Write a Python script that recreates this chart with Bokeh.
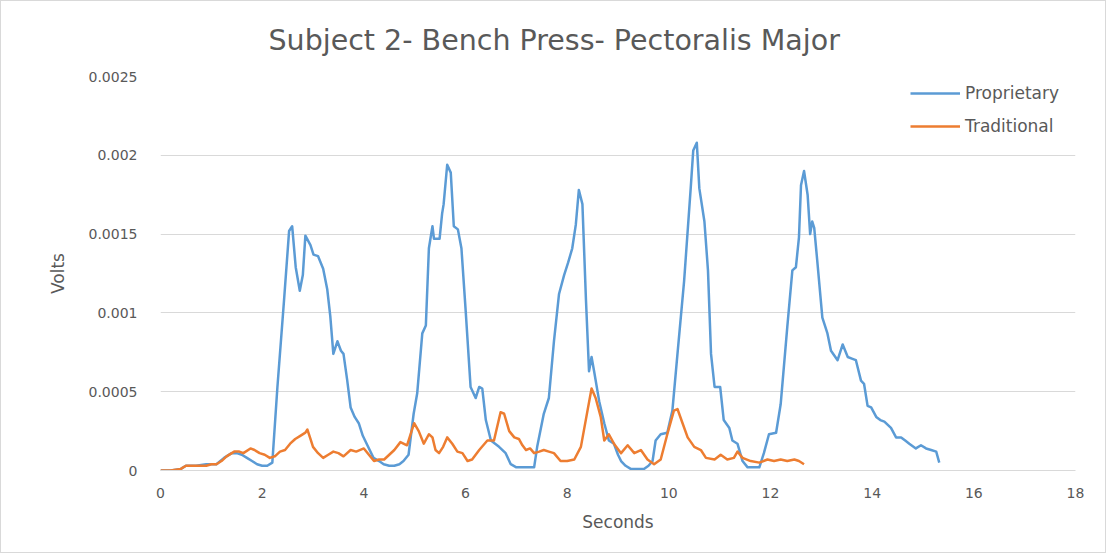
from bokeh.plotting import figure
from bokeh.models import FixedTicker, Range1d, Legend, LegendItem, Title
from bokeh.embed import file_html
from bokeh.resources import INLINE

# EMG signal, Proprietary bench press (seconds, volts)
prop_t = [0.0, 0.2, 0.4, 0.5, 0.7, 0.9, 1.1, 1.25, 1.4, 1.5, 1.6, 1.7, 1.8, 1.9, 2.0, 2.1, 2.2,
          2.3, 2.43, 2.53, 2.59, 2.66, 2.74, 2.8, 2.85, 2.95, 3.01, 3.1, 3.2, 3.28, 3.34, 3.4,
          3.48, 3.55, 3.6, 3.67, 3.74, 3.82, 3.9, 3.98, 4.07, 4.19, 4.3, 4.39, 4.5, 4.6, 4.7,
          4.78, 4.88, 4.98, 5.05, 5.15, 5.22, 5.28, 5.35, 5.38, 5.49, 5.54, 5.57, 5.64, 5.71,
          5.77, 5.85, 5.92, 6.0, 6.1, 6.2, 6.27, 6.33, 6.4, 6.5, 6.66, 6.79, 6.89, 7.0, 7.09,
          7.2, 7.35, 7.41, 7.54, 7.64, 7.74, 7.84, 7.94, 8.02, 8.1, 8.17, 8.23, 8.3, 8.37, 8.43,
          8.48, 8.53, 8.63, 8.73, 8.82, 8.92, 9.0, 9.06, 9.15, 9.25, 9.4, 9.51, 9.6, 9.68, 9.74,
          9.84, 9.97, 10.07, 10.17, 10.3, 10.43, 10.48, 10.55, 10.6, 10.7, 10.77, 10.83, 10.9,
          11.01, 11.08, 11.19, 11.25, 11.35, 11.45, 11.55, 11.65, 11.78, 11.87, 11.97, 12.11,
          12.2, 12.33, 12.43, 12.5, 12.56, 12.6, 12.66, 12.73, 12.78, 12.82, 12.86, 12.92,
          13.02, 13.12, 13.19, 13.32, 13.42, 13.52, 13.6, 13.68, 13.78, 13.84, 13.91, 13.98,
          14.08, 14.16, 14.24, 14.37, 14.47, 14.57, 14.65, 14.73, 14.86, 14.96, 15.06, 15.16,
          15.26, 15.32]
prop_v = [0.0, 0.0, 0.00001, 0.00003, 0.00003, 0.00004, 0.00004, 0.00008, 0.00011, 0.00011,
          0.0001, 0.00008, 0.00006, 0.00004, 0.00003, 0.00003, 0.00005,
          0.00053, 0.00108, 0.00152, 0.00155, 0.00129, 0.00114, 0.00124, 0.00149, 0.00143,
          0.00137, 0.00136, 0.00128, 0.00115, 0.00098, 0.00074,
          0.00082, 0.00076, 0.00074, 0.00058, 0.0004, 0.00034, 0.0003, 0.00022, 0.00016,
          0.00008, 0.00006, 0.00004, 0.00003, 0.00003, 0.00004,
          0.00006, 0.0001, 0.00036, 0.00049, 0.00087, 0.00092, 0.00141, 0.00155, 0.00147,
          0.00147, 0.00163, 0.00169, 0.00194, 0.00189,
          0.00155, 0.00153, 0.00141, 0.00103, 0.00053, 0.00046, 0.00053, 0.00052, 0.00032,
          0.00019, 0.00015, 0.00011, 0.00004, 0.00002, 0.00002,
          0.00002, 0.00002, 0.00015, 0.00036, 0.00046, 0.00082, 0.00112, 0.00124, 0.00132,
          0.00141, 0.00156, 0.00178, 0.00169, 0.00108, 0.00063,
          0.00072, 0.00063, 0.00044, 0.0003, 0.00019, 0.00017, 0.0001, 0.00006, 0.00003,
          0.00001, 0.00001, 0.00001, 0.00003, 0.00006, 0.00019,
          0.00023, 0.00024, 0.00038, 0.00074, 0.0012, 0.00179, 0.00203, 0.00208, 0.00179,
          0.00158, 0.00127, 0.00074, 0.00053,
          0.00053, 0.00032, 0.00027, 0.00019, 0.00017, 0.00006, 0.00002, 0.00002, 0.00002,
          0.00011, 0.00023, 0.00024,
          0.00042, 0.00091, 0.00127, 0.00129, 0.00148, 0.00181, 0.0019, 0.00175, 0.0015,
          0.00158, 0.00154, 0.00133,
          0.00097, 0.00087, 0.00076, 0.0007, 0.0008, 0.00072, 0.00071, 0.0007, 0.00057,
          0.00055, 0.00041, 0.0004,
          0.00034, 0.00032, 0.00031, 0.00027, 0.00021, 0.00021, 0.00019, 0.00017, 0.00014,
          0.00016, 0.00014, 0.00013,
          0.00012, 0.00005]

# EMG signal, Traditional bench press (seconds, volts)
trad_t = [0.0, 0.2, 0.4, 0.5, 0.7, 0.9, 1.0, 1.1, 1.2, 1.3, 1.45, 1.55, 1.63, 1.77, 1.85, 1.95,
          2.05, 2.15, 2.25, 2.35, 2.45, 2.55, 2.65, 2.75, 2.85, 2.89, 2.95, 3.0, 3.1, 3.2, 3.3,
          3.4, 3.5, 3.6, 3.74, 3.85, 4.0, 4.1, 4.2, 4.3, 4.4, 4.5, 4.6, 4.72, 4.85, 4.99, 5.08,
          5.18, 5.28, 5.35, 5.41, 5.48, 5.56, 5.64, 5.74, 5.84, 5.94, 6.04, 6.13, 6.27, 6.35,
          6.43, 6.56, 6.69, 6.76, 6.86, 6.96, 7.05, 7.12, 7.19, 7.27, 7.35, 7.45, 7.54, 7.64,
          7.74, 7.87, 8.0, 8.14, 8.27, 8.4, 8.48, 8.56, 8.66, 8.73, 8.82, 8.92, 9.06, 9.19,
          9.32, 9.45, 9.58, 9.71, 9.84, 9.97, 10.1, 10.17, 10.27, 10.37, 10.5, 10.63, 10.73,
          10.9, 11.02, 11.15, 11.28, 11.35, 11.45, 11.61, 11.78, 11.94, 12.07, 12.2, 12.33,
          12.47, 12.56, 12.66]
trad_v = [0.0, 0.0, 0.00001, 0.00003, 0.00003, 0.00003, 0.00004, 0.00004, 0.00006, 0.00009,
          0.00012, 0.00012, 0.00011, 0.00014, 0.00013, 0.00011,
          0.0001, 0.00008, 0.00009, 0.00012, 0.00013, 0.00017, 0.0002, 0.00022, 0.00024,
          0.00026, 0.0002, 0.00015, 0.00011, 0.00008, 0.0001,
          0.00012, 0.00011, 0.00009, 0.00013, 0.00012, 0.00014, 0.0001, 0.00006, 0.00007,
          0.00007, 0.0001, 0.00013, 0.00018, 0.00016, 0.0003, 0.00025,
          0.00017, 0.00023, 0.00021, 0.00013, 0.00011, 0.00015, 0.00021, 0.00017, 0.00012,
          0.00011, 0.00006, 0.00007, 0.00013, 0.00016,
          0.00019, 0.00019, 0.00037, 0.00036, 0.00025, 0.00021, 0.0002, 0.00016, 0.00013,
          0.00014, 0.00011, 0.00012, 0.00013, 0.00012,
          0.00011, 0.00006, 0.00006, 0.00007, 0.00015, 0.00038, 0.00052, 0.00046, 0.00034,
          0.00019, 0.00023, 0.00017, 0.00011, 0.00016,
          0.00011, 0.00013, 0.00007, 0.00004, 0.00007, 0.00023, 0.00038, 0.00039, 0.0003,
          0.00021, 0.00015, 0.00013, 0.00008,
          0.00007, 0.0001, 0.00007, 0.00008, 0.00012, 0.00008, 0.00006, 0.00005, 0.00007,
          0.00006, 0.00007, 0.00006,
          0.00007, 0.00006, 0.00004]

x_ticks = [0, 2, 4, 6, 8, 10, 12, 14, 16, 18]
y_ticks = [0, 0.0005, 0.001, 0.0015, 0.002, 0.0025]
y_tick_labels = ["0", "0.0005", "0.001", "0.0015", "0.002", "0.0025"]

FONT = "DejaVu Sans"
TEXT = "#595959"
GRID = "#d9d9d9"

p = figure(width=1106, height=553, output_backend="svg", toolbar_location=None,
           x_range=Range1d(0, 18), y_range=Range1d(0, 0.0025),
           min_border_left=159, min_border_right=32, min_border_top=74, min_border_bottom=84)
p.styles = {"border": "1px solid #d9d9d9"}
p.outline_line_color = None
p.background_fill_color = "white"
p.border_fill_color = "white"

title = Title(text="Subject 2- Bench Press- Pectoralis Major", align="left", offset=108,
              text_font=FONT, text_font_size="28.5px", text_font_style="normal",
              text_color=TEXT, standoff=40)
p.add_layout(title, "above")

# axes
p.xaxis.ticker = FixedTicker(ticks=x_ticks)
p.yaxis.ticker = FixedTicker(ticks=y_ticks)
p.yaxis.major_label_overrides = {v: s for v, s in zip(y_ticks, y_tick_labels)}
for ax in (p.xaxis, p.yaxis):
    ax.major_tick_line_color = None
    ax.minor_tick_line_color = None
    ax.major_label_text_font = FONT
    ax.major_label_text_font_size = "14px"
    ax.major_label_text_color = TEXT
    ax.axis_label_text_font = FONT
    ax.axis_label_text_font_size = "17px"
    ax.axis_label_text_font_style = "normal"
    ax.axis_label_text_color = TEXT
p.xaxis.axis_line_color = GRID
p.yaxis.axis_line_color = None
p.xaxis.axis_label = "Seconds"
p.yaxis.axis_label = "Volts"
p.xaxis.major_label_standoff = 11
p.xaxis.axis_label_standoff = 11
p.yaxis.major_label_standoff = 17
p.yaxis.axis_label_standoff = 18

p.xgrid.grid_line_color = None
p.ygrid.grid_line_color = GRID
p.ygrid.grid_line_width = 1

r_prop = p.line(prop_t, prop_v, line_color="#5B9BD5", line_width=2.5, line_join="round")
r_trad = p.line(trad_t, trad_v, line_color="#ED7D31", line_width=2.5, line_join="round")

legend = Legend(items=[LegendItem(label="Proprietary", renderers=[r_prop]),
                       LegendItem(label="Traditional", renderers=[r_trad])],
                location=(750, 334), orientation="vertical",
                glyph_width=50, glyph_height=20, label_height=20, spacing=13,
                label_standoff=5, padding=0, margin=0,
                label_text_font=FONT, label_text_font_size="17px", label_text_color=TEXT,
                background_fill_alpha=0, border_line_color=None)
p.add_layout(legend, "center")

open("out.html", "w").write(file_html(p, INLINE))
